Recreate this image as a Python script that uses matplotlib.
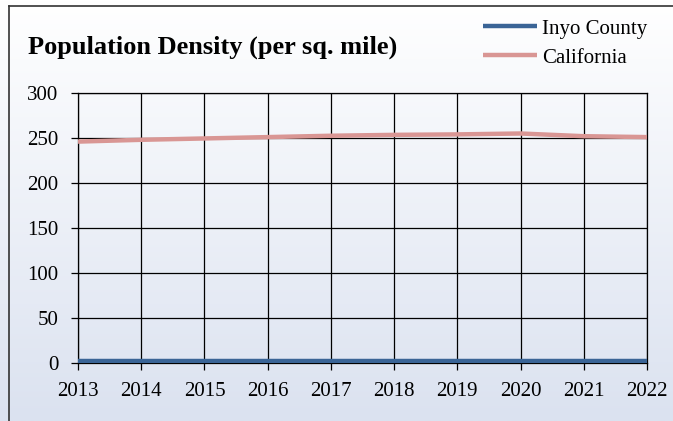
import matplotlib.pyplot as plt
import numpy as np
from matplotlib.lines import Line2D

years = [2013, 2014, 2015, 2016, 2017, 2018, 2019, 2020, 2021, 2022]
inyo = [1.9, 1.9, 1.9, 1.9, 1.9, 1.9, 1.9, 1.9, 1.9, 1.9]
california = [246, 248, 249.5, 251, 252.5, 253.5, 254, 255, 252, 251]
yticks = [0, 50, 100, 150, 200, 250, 300]

plt.rcParams["font.family"] = ["Liberation Serif", "DejaVu Serif"]

W, H = 673, 421
fig = plt.figure(figsize=(W / 100, H / 100), dpi=100)

# gradient background
bg = fig.add_axes([0, 0, 1, 1], zorder=-10)
top = np.array([1.0, 1.0, 1.0])
bot = np.array([0xdb, 0xe2, 0xf0]) / 255
t = np.linspace(0, 1, 256)[:, None]
grad = (top * (1 - t) + bot * t)[:, None, :]
bg.imshow(grad, aspect="auto", extent=[0, 1, 0, 1])
bg.set_axis_off()

# outer frame (left and top edges visible)
fig.add_artist(Line2D([8.5 / W, 8.5 / W], [0, 1 - 6 / H], color="#333333", lw=1.2))
fig.add_artist(Line2D([8.5 / W, 1], [1 - 6 / H, 1 - 6 / H], color="#333333", lw=1.2))

ax = fig.add_axes([78 / W, 1 - 363 / H, (647 - 78) / W, (363 - 93) / H])
ax.set_facecolor("none")

ax.plot(years, inyo, color="#3a6496", lw=3.2, label="Inyo County", solid_capstyle="butt", zorder=3)
ax.plot(years, california, color="#d99694", lw=3.2, label="California", solid_capstyle="butt", zorder=3)

ax.set_xlim(2013, 2022)
ax.set_ylim(0, 300)
ax.set_xticks(years)
ax.set_yticks(yticks)
ax.grid(True, color="black", lw=0.9)
for s in ax.spines.values():
    s.set_color("black")
    s.set_linewidth(0.9)
ax.tick_params(axis="both", labelsize=15, length=5, width=0.9, color="black")
ax.tick_params(axis="y", pad=9)
ax.tick_params(axis="x", pad=9)

fig.text(28 / W, 1 - 47 / H, "Population Density (per sq. mile)", fontsize=19,
         fontweight="bold", va="center", ha="left")

ax.legend(loc="upper left", bbox_to_anchor=(483 / W, 1 - 19 / H), bbox_transform=fig.transFigure,
          frameon=False, fontsize=15, handlelength=2.6, handletextpad=0.24,
          labelspacing=0.45, borderpad=0, borderaxespad=0)

fig.savefig("out.png", dpi=100)
